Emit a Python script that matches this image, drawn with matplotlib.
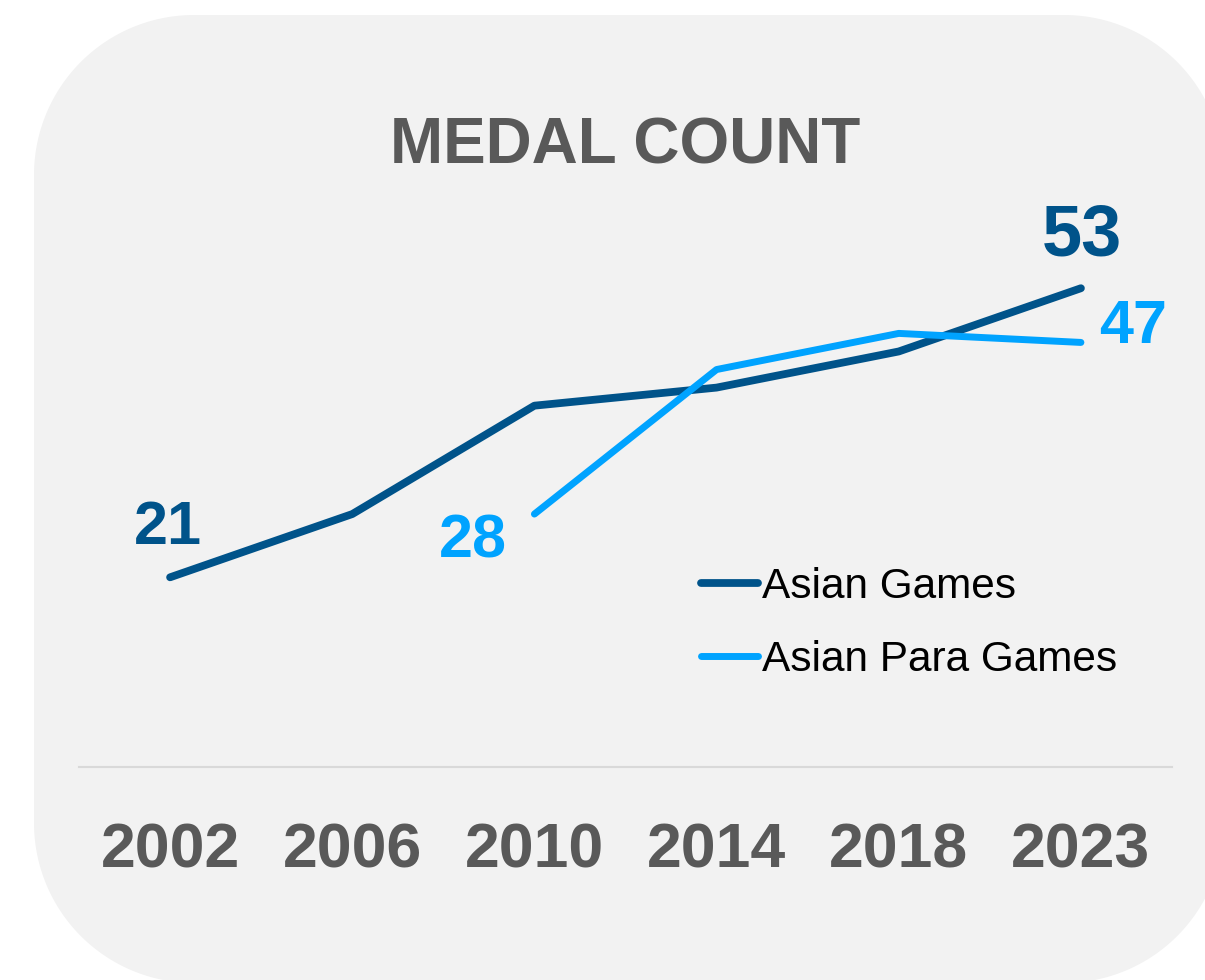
import matplotlib
matplotlib.use("Agg")
import numpy as np
import matplotlib.pyplot as plt
from matplotlib.patches import Polygon

years = ["2002", "2006", "2010", "2014", "2018", "2023"]
asian_games = [21, 28, 40, 42, 46, 53]
para_years = ["2010", "2014", "2018", "2023"]
asian_para_games = [28, 44, 48, 47]

DARK = "#00538A"
LIGHT = "#00A3FF"
GRAY = "#595959"

plt.rcParams['font.family'] = ['Liberation Sans', 'DejaVu Sans']

fig = plt.figure(figsize=(12.05, 9.8), dpi=100)
fig.patch.set_facecolor("white")

# rounded background panel (inches)
L, R_, T, B, rad = 0.34, 12.24, 9.65, -0.03, 1.6
pts = []
for (cx, cy, a0) in [(R_ - rad, T - rad, 0), (L + rad, T - rad, 90), (L + rad, B + rad, 180), (R_ - rad, B + rad, 270)]:
    ang = np.radians(np.linspace(a0, a0 + 90, 60))
    pts.extend(zip(cx + rad * np.cos(ang), cy + rad * np.sin(ang)))
bg = Polygon(pts, closed=True, transform=fig.dpi_scale_trans, facecolor="#F2F2F2", edgecolor="none", zorder=-10)
fig.patches.append(bg)

W, H = 1205, 980
ax = fig.add_axes([79 / W, (H - 767) / H, (1172 - 79) / W, 542 / H])
ax.set_zorder(5)
ax.patch.set_visible(False)

xa = [years.index(y) for y in years]
xp = [years.index(y) for y in para_years]
ax.plot(xa, asian_games, color=DARK, lw=5.6, solid_capstyle="round", solid_joinstyle="round", label="Asian Games")
ax.plot(xp, asian_para_games, color=LIGHT, lw=5.0, solid_capstyle="round", solid_joinstyle="round", label="Asian Para Games")

ax.set_xlim(-0.5, 5.5)
ax.set_ylim(0, 60)
ax.set_xticks(range(len(years)))
ax.set_xticklabels(years, fontsize=45, fontweight="bold", color=GRAY)
ax.tick_params(axis="x", length=0, pad=39)
ax.set_yticks([])
for s in ["top", "left", "right"]:
    ax.spines[s].set_visible(False)
ax.spines["bottom"].set_color("#D9D9D9")
ax.spines["bottom"].set_linewidth(1.5)

ax.annotate(str(asian_games[0]), (xa[0], asian_games[0]), xytext=(-2, 49), textcoords="offset pixels",
            ha="center", va="center", fontsize=44, fontweight="bold", color=DARK)
ax.annotate(str(asian_games[-1]), (xa[-1], asian_games[-1]), xytext=(1, 52), textcoords="offset pixels",
            ha="center", va="center", fontsize=52, fontweight="bold", color=DARK)
ax.annotate(str(asian_para_games[0]), (xp[0], asian_para_games[0]), xytext=(-62, -28), textcoords="offset pixels",
            ha="center", va="center", fontsize=44, fontweight="bold", color=LIGHT)
ax.annotate(str(asian_para_games[-1]), (xp[-1], asian_para_games[-1]), xytext=(52, 15), textcoords="offset pixels",
            ha="center", va="center", fontsize=44, fontweight="bold", color=LIGHT)

fig.text(625 / W, 1 - 146 / H, "MEDAL COUNT", ha="center", va="center", fontsize=46, fontweight="bold", color=GRAY)

leg = ax.legend(loc="upper left", bbox_to_anchor=(701 / W, 1 - 567 / H), bbox_transform=fig.transFigure,
                frameon=False, fontsize=30.5, handlelength=1.35, handletextpad=0.1, labelspacing=0.78,
                borderaxespad=0, borderpad=0)
for t in leg.get_texts():
    t.set_color("black")

fig.savefig("out.png", dpi=100, facecolor="white")
